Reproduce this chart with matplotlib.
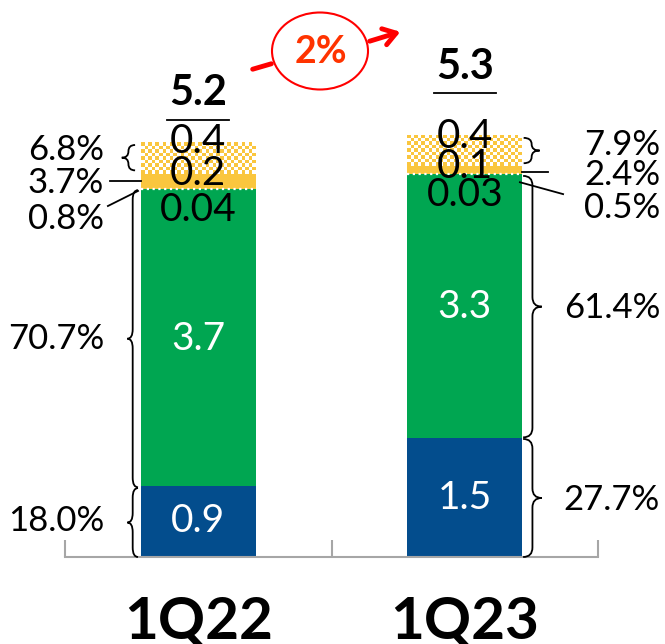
import matplotlib
matplotlib.use('Agg')
import matplotlib.pyplot as plt
import numpy as np
from matplotlib.path import Path
from matplotlib.patches import PathPatch, Ellipse, FancyArrowPatch
from matplotlib.colors import ListedColormap

plt.rcParams['font.family'] = ['Lato', 'DejaVu Sans']

# data
quarters = ['1Q22', '1Q23']
seg_blue = [0.9, 1.5]
seg_green = [3.7, 3.3]
seg_thin = [0.04, 0.03]
seg_yellow = [0.2, 0.1]
seg_pattern = [0.4, 0.4]
totals = ['5.2', '5.3']
pct_blue = ['18.0%', '27.7%']
pct_green = ['70.7%', '61.4%']
pct_thin = ['0.8%', '0.5%']
pct_yellow = ['3.7%', '2.4%']
pct_pattern = ['6.8%', '7.9%']
growth = '2%'

BLUE = '#034D8D'
GREEN = '#00A651'
YELLOW = '#FAC63E'
GRAY = '#A6A6A6'

W, H = 665, 644
fig = plt.figure(figsize=(W / 100, H / 100), dpi=100)
ax = fig.add_axes([65 / W, 87 / H, 533 / W, 557 / H])

x = np.arange(len(quarters))
bw = 0.43

segs = [seg_blue, seg_green, seg_thin, seg_yellow, seg_pattern]
stack = np.array(segs, dtype=float)
bottoms = np.vstack([np.zeros(len(x)), np.cumsum(stack, axis=0)[:-1]])
tops = np.cumsum(stack, axis=0)

ax.bar(x, seg_blue, bw, bottom=bottoms[0], color=BLUE, lw=0)
ax.bar(x, seg_green, bw, bottom=bottoms[1], color=GREEN, lw=0)
ax.bar(x, seg_thin, bw, bottom=bottoms[2], color=GREEN, lw=0)
ax.bar(x, seg_yellow, bw, bottom=bottoms[3], color=YELLOW, lw=0)
pat = ax.bar(x, seg_pattern, bw, bottom=bottoms[4], color=YELLOW, lw=0)

ax.set_xlim(-0.5, 1.5)
ax.set_ylim(0, 7.03)

# white dotted edge on the thin green piece
ax.hlines(tops[2], x - bw / 2, x + bw / 2, colors='white',
          linestyles=(0, (1, 1.6)), lw=1.6, zorder=3)

# checkerboard fill for the top piece
fig.canvas.draw()
cmap = ListedColormap([YELLOW, 'white'])
for p in pat:
    x0, y0 = p.get_x(), p.get_y()
    x1, y1 = x0 + p.get_width(), y0 + p.get_height()
    (px0, py0), (px1, py1) = ax.transData.transform([(x0, y0), (x1, y1)])
    nc = max(1, int(round((px1 - px0) / 3.6)))
    nr = max(1, int(round((py1 - py0) / 3.6)))
    board = (np.add.outer(np.arange(nr), np.arange(nc)) % 2)
    im = ax.imshow(board, extent=(x0, x1, y0, y1), cmap=cmap, vmin=0, vmax=1,
                   aspect='auto', interpolation='nearest', zorder=2)
    im.set_clip_path(p)
ax.set_xlim(-0.5, 1.5)
ax.set_ylim(0, 7.03)

# value labels
for i in x:
    ax.text(i, bottoms[0][i] + seg_blue[i] / 2, f'{seg_blue[i]:g}', color='white',
            fontsize=28, ha='center', va='center')
    ax.text(i, bottoms[1][i] + seg_green[i] / 2, f'{seg_green[i]:g}', color='white',
            fontsize=28, ha='center', va='center')
    ax.text(i, tops[2][i] - 0.26, f'{seg_thin[i]:g}', color='black',
            fontsize=28, ha='center', va='center', zorder=5)
    ax.text(i, tops[3][i], f'{seg_yellow[i]:g}', color='black',
            fontsize=29, ha='center', va='center', zorder=5)
    ax.text(i, tops[4][i] - 0.02 * i, f'{seg_pattern[i]:g}', color='black',
            fontsize=29, ha='center', va='center', zorder=5)

# totals with underline
lift = [0.28, 0.52]
for i in x:
    ul = tops[4][i] + lift[i]
    ax.plot([i - 0.116, i + 0.116], [ul, ul], color='black', lw=1.3, clip_on=False)
    ax.text(i, ul + 0.1, totals[i], fontsize=30, fontweight='bold',
            ha='center', va='bottom')


def brace(x0, y0, y1, width, corner=0.1, lw=1.3):
    ym = (y0 + y1) / 2
    c = min(corner, (y1 - y0) / 4)
    xm = x0 + width / 2
    xt = x0 + width
    verts = [(x0, y0), (xm, y0), (xm, y0 + c), (xm, ym - c),
             (xm, ym), (xt, ym), (xm, ym), (xm, ym + c),
             (xm, y1 - c), (xm, y1), (x0, y1)]
    codes = [Path.MOVETO, Path.CURVE3, Path.CURVE3, Path.LINETO,
             Path.CURVE3, Path.CURVE3, Path.CURVE3, Path.CURVE3,
             Path.LINETO, Path.CURVE3, Path.CURVE3]
    ax.add_patch(PathPatch(Path(verts, codes), fc='none', ec='black',
                           lw=lw, clip_on=False, zorder=4))


# left side, 1Q22
L = 0 - bw / 2
brace(L - 0.022, bottoms[4][0] + 0.04, tops[4][0] - 0.04, -0.05)
brace(L - 0.011, bottoms[1][0] - 0.02, tops[2][0] - 0.01, -0.04, corner=0.12)
brace(L - 0.011, 0, bottoms[1][0] - 0.03, -0.04, corner=0.12)
ax.plot([L - 0.116, L], [bottoms[3][0] + seg_yellow[0] / 2] * 2, color='black', lw=1.3)
ax.plot([L - 0.124, L - 0.011], [tops[2][0] - 0.21, tops[2][0] - 0.02], color='black', lw=1.3)

lx = -0.354
ax.text(lx, bottoms[4][0] + seg_pattern[0] / 2 + 0.1, pct_pattern[0], fontsize=25, ha='right', va='center')
ax.text(lx, bottoms[3][0] + seg_yellow[0] / 2 - 0.02, pct_yellow[0], fontsize=25, ha='right', va='center')
ax.text(lx, tops[2][0] - 0.37, pct_thin[0], fontsize=25, ha='right', va='center')
ax.text(lx, bottoms[1][0] + seg_green[0] / 2, pct_green[0], fontsize=25, ha='right', va='center')
ax.text(lx, seg_blue[0] / 2, pct_blue[0], fontsize=25, ha='right', va='center')

# right side, 1Q23
R = 1 + bw / 2
brace(R + 0.006, bottoms[4][1] + 0.04, tops[4][1] - 0.04, 0.06)
brace(R + 0.004, bottoms[1][1] + 0.01, tops[2][1] - 0.02, 0.07, corner=0.12)
brace(R + 0.004, 0, bottoms[1][1] - 0.01, 0.07, corner=0.12)
ax.plot([R, R + 0.097], [bottoms[3][1] + seg_yellow[1] / 2 - 0.02] * 2, color='black', lw=1.3, clip_on=False)
ax.plot([R - 0.008, R + 0.154], [tops[2][1] - 0.1, tops[2][1] - 0.25], color='black', lw=1.3, clip_on=False)

rx = 1.733
ax.text(rx, bottoms[4][1] + seg_pattern[1] / 2 + 0.07, pct_pattern[1], fontsize=25, ha='right', va='center')
ax.text(rx, bottoms[3][1] + seg_yellow[1] / 2 - 0.06, pct_yellow[1], fontsize=25, ha='right', va='center')
ax.text(rx, tops[2][1] - 0.42, pct_thin[1], fontsize=25, ha='right', va='center')
ax.text(rx, bottoms[1][1] + seg_green[1] / 2 - 0.01, pct_green[1], fontsize=25, ha='right', va='center')
ax.text(rx, seg_blue[1] / 2 - 0.03, pct_blue[1], fontsize=25, ha='right', va='center')

# axis styling
for s in ['top', 'left', 'right']:
    ax.spines[s].set_visible(False)
ax.spines['bottom'].set_color(GRAY)
ax.spines['bottom'].set_linewidth(1.5)
ax.set_yticks([])
ax.set_xticks(x, quarters, fontsize=42, fontweight='bold')
ax.set_xticks([-0.5, 0.5, 1.5], minor=True)
ax.tick_params(axis='x', which='major', length=0, pad=28)
ax.tick_params(axis='x', which='minor', direction='in', length=12.5, width=1.5, color=GRAY)


# growth bubble (figure pixel positions)
def fp(px, py):
    return (px / W, 1 - py / H)


fig.add_artist(Ellipse(fp(320, 51), 96 / W, 77 / H, transform=fig.transFigure,
                       fc='white', ec='#FF0000', lw=1.5, zorder=3))
fig.text(*fp(321, 52), growth, fontsize=27, fontweight='bold', color='#FF3300',
         ha='center', va='center', zorder=4)
fig.add_artist(FancyArrowPatch(fp(250, 70), fp(274, 63), transform=fig.transFigure,
                               arrowstyle='-', lw=3.5, color='#FF0000'))
fig.add_artist(FancyArrowPatch(fp(367, 42), fp(403, 31), transform=fig.transFigure,
                               arrowstyle='->,head_length=0.45,head_width=0.3',
                               mutation_scale=20, lw=3.5, color='#FF0000'))

fig.savefig('out.png', dpi=100)
